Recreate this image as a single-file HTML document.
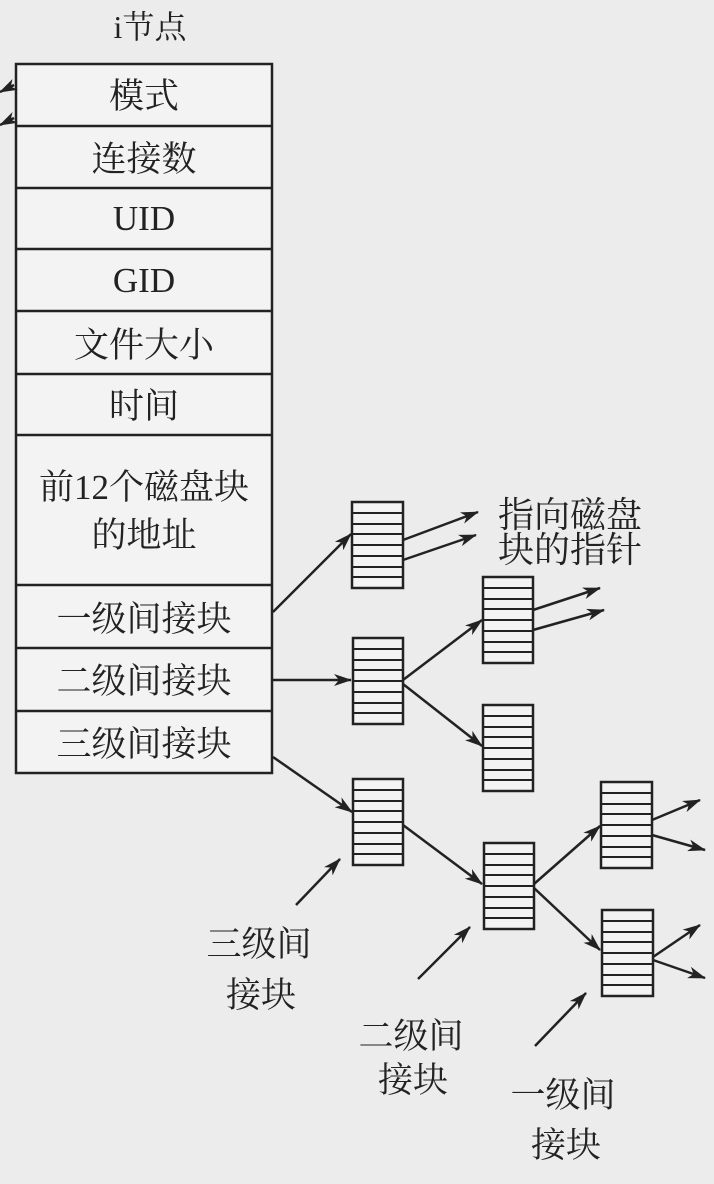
<!DOCTYPE html>
<html><head><meta charset="utf-8"><style>
html,body{margin:0;padding:0;background:#ececec;}
svg{display:block;}
text{font-family:"Liberation Serif","Noto Serif CJK SC","Noto Sans CJK SC",serif;fill:#222;}
</style></head><body>
<svg width="714" height="1184" viewBox="0 0 714 1184" xmlns="http://www.w3.org/2000/svg">
<defs>
<marker id="a" markerWidth="18" markerHeight="12" refX="17" refY="6" orient="auto" markerUnits="userSpaceOnUse">
<path d="M0,0 L18,6 L0,12 L5,6 Z" fill="#222"/>
</marker>
</defs>
<rect width="714" height="1184" fill="#ececec"/>
<text x="150" y="38" font-size="32" text-anchor="middle">i节点</text>
<g fill="#f3f3f3" stroke="#222" stroke-width="2.5">
<rect x="16" y="64" width="256" height="709"/>
</g>
<g stroke="#222" stroke-width="2.5">
<line x1="16" y1="126" x2="272" y2="126"/>
<line x1="16" y1="188" x2="272" y2="188"/>
<line x1="16" y1="249" x2="272" y2="249"/>
<line x1="16" y1="311" x2="272" y2="311"/>
<line x1="16" y1="374" x2="272" y2="374"/>
<line x1="16" y1="435" x2="272" y2="435"/>
<line x1="16" y1="585" x2="272" y2="585"/>
<line x1="16" y1="648" x2="272" y2="648"/>
<line x1="16" y1="711" x2="272" y2="711"/>
</g>
<g font-size="35" text-anchor="middle">
<text x="144" y="108">模式</text>
<text x="144" y="171">连接数</text>
<text x="144" y="230">UID</text>
<text x="144" y="292">GID</text>
<text x="144" y="357">文件大小</text>
<text x="144" y="418">时间</text>
<text x="144" y="499">前12个磁盘块</text>
<text x="144" y="547">的地址</text>
<text x="144" y="631">一级间接块</text>
<text x="144" y="693">二级间接块</text>
<text x="144" y="756">三级间接块</text>
</g>
<g stroke="#222" stroke-width="2.5" fill="#f3f3f3">
<rect x="352" y="502" width="51" height="86"/>
<rect x="353" y="638" width="50" height="86"/>
<rect x="483" y="577" width="50" height="86"/>
<rect x="483" y="705" width="50" height="86"/>
<rect x="353" y="779" width="50" height="86"/>
<rect x="484" y="843" width="50" height="86"/>
<rect x="601" y="782" width="51" height="86"/>
<rect x="602" y="910" width="51" height="86"/>
</g>
<g stroke="#222" stroke-width="2">
<path d="M352,513h51M352,524h51M352,534h51M352,545h51M352,556h51M352,567h51M352,577h51"/>
<path d="M353,649h50M353,660h50M353,670h50M353,681h50M353,692h50M353,703h50M353,713h50"/>
<path d="M483,588h50M483,599h50M483,609h50M483,620h50M483,631h50M483,642h50M483,652h50"/>
<path d="M483,716h50M483,727h50M483,737h50M483,748h50M483,759h50M483,770h50M483,780h50"/>
<path d="M353,790h50M353,801h50M353,811h50M353,822h50M353,833h50M353,844h50M353,854h50"/>
<path d="M484,854h50M484,865h50M484,875h50M484,886h50M484,897h50M484,908h50M484,918h50"/>
<path d="M601,793h51M601,804h51M601,814h51M601,825h51M601,836h51M601,847h51M601,857h51"/>
<path d="M602,921h51M602,932h51M602,942h51M602,953h51M602,964h51M602,975h51M602,985h51"/>
</g>
<g stroke="#222" stroke-width="2.5" fill="none" marker-end="url(#a)">
<line x1="273" y1="612" x2="351" y2="534"/>
<line x1="403" y1="540" x2="478" y2="512"/>
<line x1="403" y1="560" x2="476" y2="535"/>
<line x1="273" y1="680" x2="351" y2="680"/>
<line x1="403" y1="680" x2="482" y2="620"/>
<line x1="403" y1="684" x2="482" y2="746"/>
<line x1="533" y1="610" x2="600" y2="588"/>
<line x1="533" y1="630" x2="604" y2="610"/>
<line x1="273" y1="757" x2="352" y2="812"/>
<line x1="403" y1="825" x2="482" y2="884"/>
<line x1="534" y1="884" x2="600" y2="826"/>
<line x1="534" y1="888" x2="600" y2="950"/>
<line x1="652" y1="820" x2="700" y2="800"/>
<line x1="652" y1="835" x2="705" y2="850"/>
<line x1="653" y1="957" x2="700" y2="925"/>
<line x1="653" y1="960" x2="705" y2="978"/>
<line x1="296" y1="905" x2="340" y2="859"/>
<line x1="418" y1="979" x2="470" y2="927"/>
<line x1="535" y1="1046" x2="586" y2="993"/>
<line x1="14" y1="85" x2="0" y2="92"/>
<line x1="14" y1="118" x2="0" y2="125"/>
</g>
<g font-size="36">
<text x="498" y="527">指向磁盘</text>
<text x="498" y="562">块的指针</text>
</g>
<g font-size="35" text-anchor="middle">
<text x="259" y="956">三级间</text>
<text x="261" y="1007">接块</text>
<text x="411" y="1048">二级间</text>
<text x="413" y="1092">接块</text>
<text x="563" y="1107">一级间</text>
<text x="566" y="1157">接块</text>
</g>
</svg>
</body></html>
